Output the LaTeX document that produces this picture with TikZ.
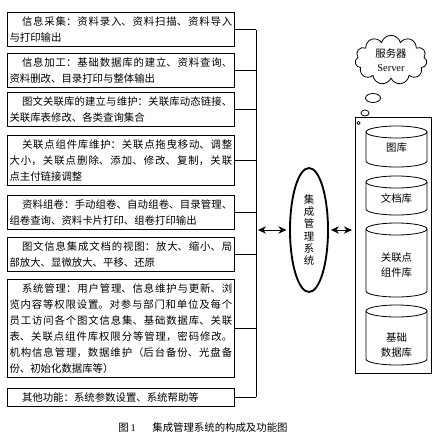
\documentclass[tikz,border=0pt]{standalone}
\usepackage{fontspec}
\setmainfont{Liberation Serif}
\newfontfamily\cjk{Noto Sans CJK SC}
\XeTeXlinebreaklocale "zh"
\XeTeXlinebreakskip=0pt plus 1.5pt minus 0.2pt
\usetikzlibrary{shapes.geometric,shapes.symbols,arrows.meta}

\tikzset{
  funcbox/.style={draw, line width=0.6pt, anchor=north west, text width=167pt, inner xsep=1.6pt, inner ysep=3.2pt, align=justify, font=\cjk\fontsize{7.8pt}{12pt}\selectfont},
  dblabel/.style={align=center, inner sep=0pt, font=\cjk\fontsize{7.8pt}{11.3pt}\selectfont},
  dblarrow/.style={line width=0.6pt, {Stealth[length=6pt,width=5.5pt]}-{Stealth[length=6pt,width=5.5pt]}, shorten <=1.5pt, shorten >=2pt}
}

\begin{document}
\begin{tikzpicture}[x=0.75pt,y=0.75pt,yscale=-1,xscale=1,line width=0.6pt]

\useasboundingbox (0,0) rectangle (440,440);


\node [funcbox] (caiji) at (7,12) {\hspace*{1.2em}信息采集：资料录入、资料扫描、资料导入\linebreak 与打印输出};

\node [funcbox] (jiagong) at (7,53) {\hspace*{1.2em}信息加工：基础数据库的建立、资料查询、\linebreak 资料删改、目录打印与整体输出};

\node [funcbox] (guanlianku) at (7,92) {\hspace*{1.2em}图文关联库的建立与维护：关联库动态链接、\linebreak 关联库表修改、各类查询集合};

\node [funcbox] (zujianku) at (7,135) {\hspace*{1.2em}关联点组件库维护：关联点拖曳移动、调整\linebreak 大小，关联点删除、添加、修改、复制，关联\linebreak 点主付链接调整};

\node [funcbox] (zujuan) at (7,195) {\hspace*{1.2em}资料组卷：手动组卷、自动组卷、目录管理、\linebreak 组卷查询、资料卡片打印、组卷打印输出};

\node [funcbox] (shitu) at (7,237) {\hspace*{1.2em}图文信息集成文档的视图：放大、缩小、局\linebreak 部放大、显微放大、平移、还原};

\node [funcbox] (guanli) at (7,279) {\hspace*{1.2em}系统管理：用户管理、信息维护与更新、浏\linebreak 览内容等权限设置。对参与部门和单位及每个\linebreak 员工访问各个图文信息集、基础数据库、关联\linebreak 表、关联点组件库权限分等管理，密码修改。\linebreak 机构信息管理，数据维护（后台备份、光盘备\linebreak 份、初始化数据库等）};

\node [funcbox] (qita) at (7,388) {\hspace*{1.2em}其他功能：系统参数设置、系统帮助等};


\coordinate (bus) at (256,230);

\draw (caiji.east) -- (caiji.east -| bus);

\draw (jiagong.east) -- (jiagong.east -| bus);

\draw (guanlianku.east) -- (guanlianku.east -| bus);

\draw (zujianku.east) -- (zujianku.east -| bus);

\draw (zujuan.east) -- (zujuan.east -| bus);

\draw (shitu.east) -- (shitu.east -| bus);

\draw (guanli.east) -- (guanli.east -| bus);

\draw (qita.east) -- (qita.east -| bus);

\draw (caiji.east -| bus) -- (qita.east -| bus);


\node [ellipse, draw, line width=1.4pt, minimum width=28.5pt, minimum height=93pt, inner sep=0pt, align=center, font=\cjk\fontsize{7.8pt}{9.2pt}\selectfont] (jicheng) at (309,230) {集\\成\\管\\理\\系\\统};

\node [draw, minimum width=57pt, minimum height=192pt, inner sep=0pt] (fuwuqi) at (393,245) {};

\draw [dblarrow] (bus) -- (jicheng.west);

\draw [dblarrow] (jicheng.east) -- (jicheng.east -| fuwuqi.west);

\draw (358.5,123) circle [radius=1.6];


\draw (366,132) -- (366,161) arc [start angle=180, end angle=0, x radius=30.5, y radius=6] -- (427,132);
\draw (396.5,132) ellipse [x radius=30.5, y radius=6];

\draw (366,182) -- (366,209) arc [start angle=180, end angle=0, x radius=30.5, y radius=6] -- (427,182);
\draw (396.5,182) ellipse [x radius=30.5, y radius=6];

\draw (366,229) -- (366,291) arc [start angle=180, end angle=0, x radius=30.5, y radius=6] -- (427,229);
\draw (396.5,229) ellipse [x radius=30.5, y radius=6];

\draw (366,311) -- (366,359) arc [start angle=180, end angle=0, x radius=30.5, y radius=6] -- (427,311);
\draw (396.5,311) ellipse [x radius=30.5, y radius=6];

\node [dblabel] (tuku) at (396.5,148) {图库};

\node [dblabel] (wendangku) at (396.5,199) {文档库};

\node [dblabel] (zujian) at (396.5,265) {关联点\\组件库};

\node [dblabel] (jichuku) at (396.5,345) {基础\\数据库};


\node [cloud, draw, cloud puffs=11, aspect=1.5, minimum width=54pt, minimum height=37pt, inner sep=0pt, align=center, font=\fontsize{7.8pt}{10.5pt}\selectfont] (fuwu) at (391,60) {{\cjk 服务器}\\Server};

\draw (373,98) ellipse [x radius=7.5, y radius=4.5];

\draw (365,113) ellipse [x radius=4, y radius=3];


\node [font=\cjk\fontsize{7.8pt}{9pt}\selectfont] (tuti) at (203,428) {图\,{\rmfamily 1}\hspace{1.6em}集成管理系统的构成及功能图};

\end{tikzpicture}
\end{document}
